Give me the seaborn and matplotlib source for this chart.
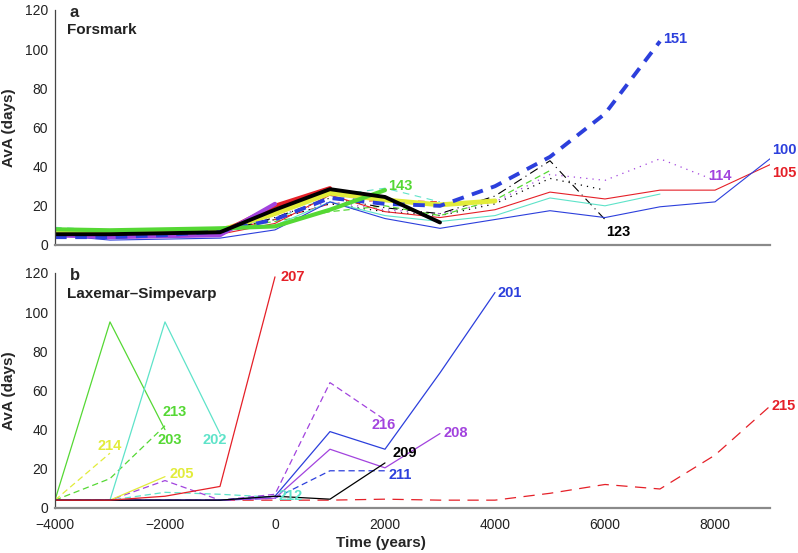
import matplotlib
matplotlib.use("Agg")
import matplotlib.pyplot as plt
import seaborn as sns

# Colours
RED = "#e52028"
BLUE = "#2c3fdc"
GREEN = "#55d834"
CYAN = "#5ee3c9"
YELLOW = "#e2ec3a"
PURPLE = "#a243de"
BLACK = "#000000"

years = [-4000, -3000, -2000, -1000, 0, 1000, 2000, 3000, 4000, 5000, 6000, 7000, 8000, 9000]

# Panel a - Forsmark (values in days, one per 1000 years starting at -4000)
f100 = [5, 2.5, 3, 3.5, 7.7, 22, 13.5, 8.5, 13, 17.5, 14, 19.5, 22, 44]
f105 = [6, 5, 5, 5.5, 11, 25.5, 17, 14, 18, 27, 23.5, 28, 28, 41]
f_cyan = [8, 6, 6.5, 7, 10, 22, 15, 12, 15, 24, 20, 26]
f151 = [4, 4, 5, 7, 13, 24, 21, 20, 30, 45, 67, 104]
f123 = [6, 5, 5.5, 6.5, 14, 24, 19, 16, 25, 43, 13]
f114 = [7, 6, 6, 7, 15, 22, 18, 16, 22, 36, 33, 44, 33]
f_dot_black = [6, 5.5, 6, 7, 13, 21, 17, 15, 21, 34, 28]
f143 = [8, 7.5, 8, 8.5, 9.5, 18, 28]
f_black = [5.5, 5.5, 6, 6.5, 18, 28.5, 24.5, 11.5]
f_red = [5, 5, 5.5, 6, 20, 29]
f_purple = [5, 4, 4.5, 5, 21]
f_yellow = [7, 6.5, 7, 7.5, 16, 26.5, 23, 20.5, 22.5]
f_green_dash = [7, 6.5, 7, 8, 12, 17, 20, 15, 23, 38]
f_cyan_dash = [9, 7.5, 8, 9, 13, 25, 29, 22]
f_red_dash = [6, 5.5, 6, 7, 13, 21, 23, 22]

# Panel b - Laxemar-Simpevarp
b207 = [4, 4, 6, 11, 118]
b213 = [4, 95, 40]
b203 = [4, 15, 42]
b214 = [4, 28]
b202 = [4, 4, 95, 38]
b205 = [4, 16]  # starts at -3000
b216 = [4, 4, 14, 4, 7, 64, 45]
b212 = [4, 4, 8, 7, 5.5]
b201 = [4, 4, 4, 4, 6, 39, 30, 69, 110]
b208 = [4, 4, 4, 4, 5, 30, 20.5, 38]
b211 = [4, 4, 4, 4, 5, 19, 19]
b209 = [4, 4, 4, 4, 6, 4.5, 23]
b215 = [4, 4, 4, 4, 4, 4, 4.5, 4, 4, 7.5, 12, 9.7, 27, 52]

# (values, start year, colour, linestyle, width, label)
top_series = [
    (f_cyan_dash, -4000, CYAN, (0, (6, 5)), 0.8, None),
    (f_red_dash, -4000, RED, (0, (6, 5)), 0.8, None),
    (f_dot_black, -4000, BLACK, (0, (1, 4)), 0.9, None),
    (f114, -4000, PURPLE, (0, (1, 4)), 0.9, "114"),
    (f_green_dash, -4000, GREEN, (0, (5, 3)), 0.9, None),
    (f123, -4000, BLACK, (0, (8, 4, 1, 4)), 0.8, "123"),
    (f_cyan, -4000, CYAN, "-", 0.8, None),
    (f105, -4000, RED, "-", 0.8, "105"),
    (f100, -4000, BLUE, "-", 0.8, "100"),
    (f_yellow, -4000, YELLOW, "-", 3.5, None),
    (f_red, -4000, RED, "-", 3, None),
    (f_purple, -4000, PURPLE, "-", 3, None),
    (f151, -4000, BLUE, (0, (3, 2.2)), 2.8, "151"),
    (f143, -4000, GREEN, "-", 3, "143"),
    (f_black, -4000, BLACK, "-", 2.8, None),
]
bot_series = [
    (b215, -4000, RED, (0, (9, 6)), 0.9, "215"),
    (b212, -4000, CYAN, (0, (5, 3)), 0.9, "212"),
    (b216, -4000, PURPLE, (0, (5, 3)), 0.9, "216"),
    (b211, -4000, BLUE, (0, (5, 3)), 0.9, "211"),
    (b203, -4000, GREEN, (0, (5, 3)), 0.9, "203"),
    (b214, -4000, YELLOW, (0, (5, 3)), 0.9, "214"),
    (b205, -3000, YELLOW, "-", 0.9, "205"),
    (b213, -4000, GREEN, "-", 0.9, "213"),
    (b202, -4000, CYAN, "-", 0.9, "202"),
    (b208, -4000, PURPLE, "-", 0.9, "208"),
    (b201, -4000, BLUE, "-", 0.9, "201"),
    (b209, -4000, BLACK, "-", 0.9, "209"),
    (b207, -4000, RED, "-", 0.9, "207"),
]

# where the curve labels sit (data coordinates)
top_labels = {"151": (7050, 105), "100": (9030, 48.5), "105": (9030, 37),
              "114": (7880, 35), "123": (6020, 6.5), "143": (2050, 30)}
bot_labels = {"207": (100, 118), "201": (4050, 110), "213": (-2040, 49),
              "203": (-2130, 34.5), "214": (-3220, 31.5), "202": (-1310, 34.5),
              "205": (-1910, 17.5), "216": (1750, 42.5), "208": (3060, 38.5),
              "209": (2130, 28), "211": (2060, 17), "212": (60, 6), "215": (9030, 52)}

sns.set_style("white")
plt.rcParams['font.family'] = ['Liberation Sans', 'DejaVu Sans']

fig = plt.figure(figsize=(7.98, 5.53), dpi=100)
ax_a = fig.add_axes([0.0689, 0.557, 0.896, 0.425])
ax_b = fig.add_axes([0.0689, 0.0814, 0.896, 0.425])


def draw(ax, series, labels):
    for vals, start, col, ls, lw, lab in series:
        i0 = years.index(start)
        xs = years[i0:i0 + len(vals)]
        sns.lineplot(x=xs, y=vals, ax=ax, color=col, linestyle=ls,
                     linewidth=lw, sort=False, estimator=None)
        if lab is not None:
            lx, ly = labels[lab]
            ax.text(lx, ly, lab, color=col, fontsize=10.5, fontweight="bold",
                    ha="left", va="center", clip_on=False)
    ax.set_xlim(-4000, 9000)
    ax.set_ylim(0, 120)
    ax.set_xticks([-4000, -2000, 0, 2000, 4000, 6000, 8000])
    ax.set_yticks([0, 20, 40, 60, 80, 100, 120])
    ax.tick_params(direction="in", length=5, width=0.8, colors="#555555",
                   labelcolor="#222222", labelsize=10, pad=5)
    ax.tick_params(axis="x", pad=7)
    for s in ["top", "right"]:
        ax.spines[s].set_visible(False)
    ax.spines["bottom"].set_color("#8a8a8a")
    ax.spines["bottom"].set_linewidth(1.6)
    ax.spines["left"].set_color("#444444")
    ax.spines["left"].set_linewidth(0.9)
    ax.set_ylabel("AvA (days)", fontsize=11, fontweight="bold")
    ax.yaxis.set_label_coords(-0.055, 0.5)


draw(ax_a, top_series, top_labels)
draw(ax_b, bot_series, bot_labels)

ax_a.set_xticklabels([])
ax_a.set_xlabel("")
ax_b.set_xlabel("Time (years)", fontsize=11, fontweight="bold")
ax_b.xaxis.set_label_coords(0.456, -0.12)

ax_a.text(0.021, 0.99, "a", transform=ax_a.transAxes, fontsize=12,
          fontweight="bold", ha="left", va="center")
ax_a.text(0.017, 0.915, "Forsmark", transform=ax_a.transAxes, fontsize=11,
          fontweight="bold", ha="left", va="center", color="#222222")
ax_b.text(0.021, 0.99, "b", transform=ax_b.transAxes, fontsize=12,
          fontweight="bold", ha="left", va="center")
ax_b.text(0.017, 0.91, "Laxemar\u2013Simpevarp", transform=ax_b.transAxes,
          fontsize=11, fontweight="bold", ha="left", va="center", color="#222222")

fig.savefig("out.png", dpi=100)
